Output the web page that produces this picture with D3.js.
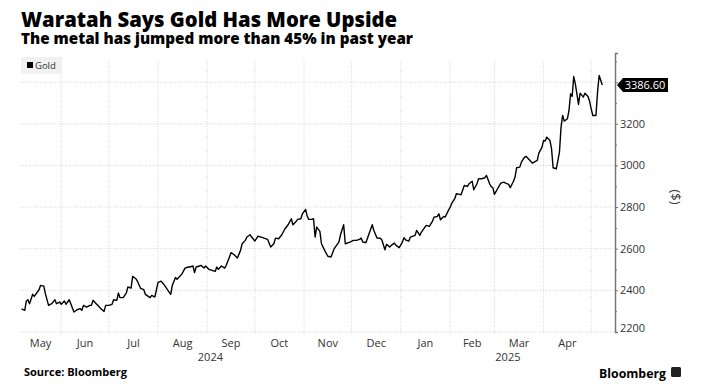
<!DOCTYPE html>
<html>
<head>
<meta charset="utf-8">
<script src="https://cdn.jsdelivr.net/npm/d3@7"></script>
<style>
  body { margin: 0; background: #fff; }
  svg { display: block; font-family: "Open Sans", "DejaVu Sans", sans-serif; }
</style>
</head>
<body>
<div id="chart"></div>
<script>
// gold price
var dates = [
  "2024-05-07","2024-05-09","2024-05-10","2024-05-11","2024-05-12","2024-05-14","2024-05-15","2024-05-18","2024-05-19","2024-05-21",
  "2024-05-22","2024-05-24","2024-05-26","2024-05-28","2024-05-29","2024-05-31","2024-06-01","2024-06-03","2024-06-04","2024-06-06",
  "2024-06-07","2024-06-09","2024-06-11","2024-06-13","2024-06-14","2024-06-15","2024-06-17","2024-06-19","2024-06-20","2024-06-21",
  "2024-06-23","2024-06-24","2024-06-26","2024-06-28","2024-06-29","2024-07-01","2024-07-03","2024-07-04","2024-07-06","2024-07-07",
  "2024-07-08","2024-07-10","2024-07-12","2024-07-13","2024-07-15","2024-07-16","2024-07-18","2024-07-19","2024-07-21","2024-07-23",
  "2024-07-24","2024-07-27","2024-07-28","2024-07-30","2024-08-01","2024-08-03","2024-08-05","2024-08-08","2024-08-09","2024-08-10",
  "2024-08-12","2024-08-13","2024-08-16","2024-08-18","2024-08-20","2024-08-21","2024-08-23","2024-08-24","2024-08-25","2024-08-27",
  "2024-08-28","2024-08-30","2024-08-31","2024-09-02","2024-09-04","2024-09-06","2024-09-07","2024-09-08","2024-09-10","2024-09-12",
  "2024-09-13","2024-09-15","2024-09-16","2024-09-18","2024-09-20","2024-09-22","2024-09-23","2024-09-25","2024-09-26","2024-09-28",
  "2024-09-29","2024-10-01","2024-10-03","2024-10-05","2024-10-09","2024-10-11","2024-10-13","2024-10-14","2024-10-16","2024-10-18",
  "2024-10-20","2024-10-22","2024-10-24","2024-10-25","2024-10-27","2024-10-28","2024-10-30","2024-10-31","2024-11-02","2024-11-03",
  "2024-11-04","2024-11-06","2024-11-07","2024-11-08","2024-11-09","2024-11-11","2024-11-12","2024-11-14","2024-11-16","2024-11-18",
  "2024-11-20","2024-11-23","2024-11-24","2024-11-26","2024-11-27","2024-11-30","2024-12-02","2024-12-04","2024-12-06","2024-12-07",
  "2024-12-08","2024-12-10","2024-12-12","2024-12-14","2024-12-15","2024-12-17","2024-12-19","2024-12-20","2024-12-22","2024-12-23",
  "2024-12-25","2024-12-26","2024-12-28","2024-12-29","2024-12-31","2025-01-02","2025-01-03","2025-01-04","2025-01-06","2025-01-07",
  "2025-01-10","2025-01-11","2025-01-13","2025-01-14","2025-01-16","2025-01-17","2025-01-19","2025-01-21","2025-01-22","2025-01-24",
  "2025-01-25","2025-01-26","2025-01-28","2025-01-29","2025-01-31","2025-02-01","2025-02-02","2025-02-04","2025-02-05","2025-02-07",
  "2025-02-08","2025-02-10","2025-02-12","2025-02-13","2025-02-15","2025-02-16","2025-02-18","2025-02-19","2025-02-21","2025-02-23",
  "2025-02-24","2025-02-26","2025-02-27","2025-02-28","2025-03-01","2025-03-03","2025-03-05","2025-03-07","2025-03-08","2025-03-10",
  "2025-03-11","2025-03-13","2025-03-14","2025-03-15","2025-03-17","2025-03-18","2025-03-20","2025-03-21","2025-03-23","2025-03-25",
  "2025-03-26","2025-03-28","2025-03-29","2025-03-31","2025-04-01","2025-04-02","2025-04-03","2025-04-05","2025-04-06","2025-04-07",
  "2025-04-09","2025-04-11","2025-04-12","2025-04-13","2025-04-14","2025-04-16","2025-04-17","2025-04-18","2025-04-19","2025-04-20",
  "2025-04-21","2025-04-23","2025-04-24","2025-04-26","2025-04-27","2025-04-29","2025-04-30","2025-05-01","2025-05-02","2025-05-04",
  "2025-05-05","2025-05-06","2025-05-08"
];
var prices = [
  2311,2304,2349,2355,2336,2381,2371,2403,2424,2420,
  2384,2328,2336,2355,2336,2344,2333,2349,2333,2355,
  2336,2296,2307,2312,2304,2328,2320,2328,2328,2352,
  2336,2328,2312,2299,2328,2328,2333,2355,2352,2387,
  2365,2365,2387,2416,2411,2467,2456,2444,2410,2403,
  2381,2365,2376,2368,2438,2444,2425,2392,2381,2424,
  2462,2453,2478,2507,2512,2512,2517,2485,2512,2517,
  2520,2507,2517,2501,2496,2491,2512,2501,2517,2507,
  2520,2560,2581,2571,2555,2592,2624,2640,2656,2667,
  2656,2637,2660,2656,2645,2608,2624,2651,2648,2667,
  2696,2715,2744,2715,2731,2741,2744,2768,2789,2757,
  2741,2741,2744,2656,2704,2683,2624,2592,2564,2560,
  2600,2632,2667,2715,2624,2632,2640,2640,2645,2651,
  2632,2629,2672,2715,2688,2651,2650,2643,2595,2621,
  2608,2616,2627,2616,2605,2632,2653,2643,2636,2656,
  2664,2688,2664,2680,2701,2712,2707,2733,2752,2755,
  2768,2739,2755,2752,2784,2797,2816,2840,2864,2861,
  2859,2904,2899,2912,2924,2883,2912,2936,2936,2941,
  2952,2912,2898,2893,2861,2888,2915,2920,2915,2909,
  2893,2924,2944,2989,2992,3016,3040,3043,3027,3011,
  3016,3024,3059,3088,3120,3117,3136,3120,3080,2989,
  2984,3064,3184,3240,3213,3224,3264,3344,3331,3427,
  3392,3293,3347,3328,3347,3331,3308,3272,3240,3240,
  3352,3432,3386.60
];
var yTicks = [2200, 2400, 2600, 2800, 3000, 3200, 3400];
var yTickLabels = ["2200", "2400", "2600", "2800", "3000", "3200", ""];
var years = ["2024", "2025"];
var seriesName = "Gold";
var lastLabel = "3386.60";

var W = 704, H = 389;
var margin = {top: 53, right: 89, bottom: 57, left: 20},
    width = W - margin.left - margin.right,
    height = H - margin.top - margin.bottom;

var parse = d3.timeParse("%Y-%m-%d");
var data = dates.map(function(d, i) { return {date: parse(d), value: prices[i]}; });

var svg = d3.select("#chart").append("svg")
    .attr("width", W)
    .attr("height", H);

// titles
svg.append("text")
    .attr("x", 21).attr("y", 26.5)
    .attr("font-size", 20.3).attr("font-weight", 800)
    .attr("fill", "#000")
    .attr("textLength", 376).attr("lengthAdjust", "spacingAndGlyphs")
    .text("Waratah Says Gold Has More Upside");
svg.append("text")
    .attr("x", 21).attr("y", 44)
    .attr("font-size", 15).attr("font-weight", 800)
    .attr("fill", "#000")
    .attr("textLength", 392).attr("lengthAdjust", "spacingAndGlyphs")
    .text("The metal has jumped more than 45% in past year");

var g = svg.append("g")
    .attr("transform", "translate(" + margin.left + "," + margin.top + ")");

var x = d3.scaleTime()
    .domain([parse("2024-05-06"), parse("2025-05-16")])
    .range([0, width]);
var y = d3.scaleLinear()
    .domain([2200, 3540])
    .range([height, 0]);

// gridlines
var months = d3.timeMonth.range(d3.timeMonth.ceil(x.domain()[0]), x.domain()[1]);
g.selectAll(".vgrid")
  .data(months)
  .enter().append("line")
    .attr("x1", function(d) { return x(d); })
    .attr("x2", function(d) { return x(d); })
    .attr("y1", 8).attr("y2", height + 2)
    .attr("stroke", "#d4d4d4")
    .attr("stroke-dasharray", "1,1.5");
g.selectAll(".hgrid")
  .data(yTicks)
  .enter().append("line")
    .attr("x1", 0).attr("x2", width)
    .attr("y1", function(d) { return y(d); })
    .attr("y2", function(d) { return y(d); })
    .attr("stroke", "#d4d4d4")
    .attr("stroke-dasharray", "1,1.5");

// legend
svg.append("rect")
    .attr("x", 21).attr("y", 57).attr("width", 41).attr("height", 17)
    .attr("fill", "#f1f1f1");
svg.append("rect")
    .attr("x", 27).attr("y", 62).attr("width", 6).attr("height", 6)
    .attr("fill", "#000");
svg.append("text")
    .attr("x", 35).attr("y", 68.5)
    .attr("font-size", 9.5).attr("fill", "#333")
    .text(seriesName);

// right axis
var axisR = d3.axisRight(y)
    .tickValues(d3.range(2200, 3501, 100))
    .tickSize(3)
    .tickFormat(function(d) {
      var i = yTicks.indexOf(d);
      return i < 0 ? "" : yTickLabels[i];
    });
var ax = g.append("g")
    .attr("transform", "translate(" + width + ",0)")
    .call(axisR);
ax.select(".domain").attr("stroke", "#777").attr("stroke-width", 1.5);
ax.selectAll(".tick line").attr("stroke", "#777")
    .attr("x2", function(d) { return d % 200 === 0 ? 3 : 2; });
ax.selectAll(".tick text")
    .attr("x", 5)
    .attr("font-size", 11)
    .attr("font-family", "Open Sans, sans-serif")
    .attr("fill", "#333")
    .attr("dy", function(d) { return d === 2200 ? "-0.05em" : "0.32em"; });

// "($)" unit
svg.append("text")
    .attr("transform", "translate(671,197) rotate(90)")
    .attr("text-anchor", "middle")
    .attr("font-size", 13).attr("fill", "#333")
    .text("($)");

// bottom month labels, centred in the visible part of each month
var monthStarts = [x.domain()[0]].concat(months);
var monthSpans = monthStarts.map(function(d, i) {
  var end = i + 1 < monthStarts.length ? monthStarts[i + 1] : x.domain()[1];
  return {start: d, end: end, name: d3.timeFormat("%b")(d)};
}).filter(function(s) { return x(s.end) - x(s.start) > 30; });
g.selectAll(".mlabel")
  .data(monthSpans)
  .enter().append("text")
    .attr("x", function(s) { return (x(s.start) + x(s.end)) / 2; })
    .attr("y", height + 14.5)
    .attr("text-anchor", "middle")
    .attr("font-size", 11).attr("fill", "#333")
    .text(function(s) { return s.name; });

// year labels, centred in each year's span
var yearSpans = years.map(function(yr) {
  var s = d3.max([x.domain()[0], parse(yr + "-01-01")]);
  var e = d3.min([x.domain()[1], parse((+yr + 1) + "-01-01")]);
  return {year: yr, start: s, end: e};
});
g.selectAll(".ylabel")
  .data(yearSpans)
  .enter().append("text")
    .attr("x", function(s) { return (x(s.start) + x(s.end)) / 2; })
    .attr("y", height + 29)
    .attr("text-anchor", "middle")
    .attr("font-size", 11).attr("fill", "#333")
    .text(function(s) { return s.year; });

// the line
var line = d3.line()
    .x(function(d) { return x(d.date); })
    .y(function(d) { return y(d.value); });
g.append("path")
    .datum(data)
    .attr("fill", "none")
    .attr("stroke", "#000")
    .attr("stroke-width", 1.4)
    .attr("stroke-linejoin", "round")
    .attr("d", line);

// last value tag
var last = data[data.length - 1];
var ly = y(last.value);
g.append("path")
    .attr("d", "M" + (width + 2) + "," + ly +
               " l6,-7 h45 v14 h-45 z")
    .attr("fill", "#000");
g.append("text")
    .attr("x", width + 30).attr("y", ly)
    .attr("dy", "0.35em")
    .attr("text-anchor", "middle")
    .attr("font-size", 11).attr("fill", "#fff")
    .text(lastLabel);

// footer
svg.append("text")
    .attr("x", 24).attr("y", 376)
    .attr("font-size", 10.5).attr("font-weight", 700)
    .attr("fill", "#000")
    .attr("textLength", 103).attr("lengthAdjust", "spacingAndGlyphs")
    .text("Source: Bloomberg");
svg.append("text")
    .attr("x", 599).attr("y", 378)
    .attr("font-size", 13).attr("font-weight", 700)
    .attr("fill", "#000")
    .attr("textLength", 67).attr("lengthAdjust", "spacingAndGlyphs")
    .text("Bloomberg");
svg.append("rect")
    .attr("x", 671).attr("y", 367).attr("width", 10).attr("height", 10)
    .attr("rx", 1.5)
    .attr("fill", "#222");
</script>
</body>
</html>
